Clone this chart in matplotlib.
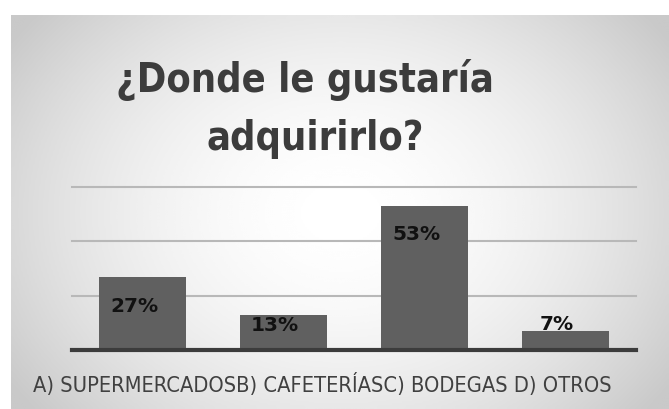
import numpy as np
import matplotlib
matplotlib.use("Agg")
import matplotlib.pyplot as plt

# ---- data ----
categories = ["A) SUPERMERCADOS", "B) CAFETERÍAS", "C) BODEGAS", "D) OTROS"]
values = [27, 13, 53, 7]
value_labels = ["27%", "13%", "53%", "7%"]
title_lines = ["¿Donde le gustaría", "adquirirlo?"]

# ---- style ----
label_dy_px = [-29, -10, -27, 7]   # vertical offset of each value label from the bar top
label_dx = -0.06
W, H = 669, 410
fig = plt.figure(figsize=(W / 100, H / 100), dpi=100)
fig.patch.set_facecolor("white")

# background panel with radial gradient
px0, py0 = 11, 16
bg = fig.add_axes([px0 / W, 0, 1 - px0 / W, (H - py0) / H])
bg.set_axis_off()
ny, nx = 200, 330
yy, xx = np.mgrid[0:ny, 0:nx]
cx, cy = nx * 0.50, ny * 0.50
r = np.sqrt(((xx - cx) / (nx * 0.55)) ** 2 + ((yy - cy) / (ny * 0.72)) ** 2)
g = 1.0 - 0.18 * np.clip(r, 0, 1.1) ** 1.8
bg.imshow(g, cmap="gray", vmin=0, vmax=1, aspect="auto", interpolation="bicubic",
          extent=[0, 1, 0, 1])
bg.set_xlim(0, 1); bg.set_ylim(0, 1)

# main axes
left, right = 72, 636
base_y, top_y = 351, 188
ax = fig.add_axes([left / W, (H - base_y) / H, (right - left) / W, (base_y - top_y) / H])
ax.set_facecolor("none")
x = np.arange(len(categories))
ax.set_xlim(-0.5, len(categories) - 0.5)
ax.set_ylim(0, 60)
for gy in [20, 40, 60]:
    ax.axhline(gy, color="#b8b8b8", lw=1.5, zorder=1, clip_on=False)
bars = ax.bar(x, values, width=0.61, color="#606060", zorder=2)
ax.axhline(0, color="#3c3c3c", lw=3, zorder=3, clip_on=False)
for s in ax.spines.values():
    s.set_visible(False)
ax.set_xticks([]); ax.set_yticks([])

for xi, v, lab, dy in zip(x, values, value_labels, label_dy_px):
    ax.annotate(lab, (xi + label_dx, v), xytext=(0, dy * 0.72), textcoords="offset points",
                ha="center", va="center", fontsize=14.5, fontweight="bold",
                color="#111111", family="DejaVu Sans", zorder=4)

# title
fig.text(305 / W, 1 - 92 / H, title_lines[0], ha="center", va="baseline",
         fontsize=28.5, fontweight="bold", color="#3c3c3c",
         family=["DejaVu Sans"], fontstretch="condensed")
fig.text(315 / W, 1 - 150 / H, title_lines[1], ha="center", va="baseline",
         fontsize=28.5, fontweight="bold", color="#3c3c3c",
         family=["DejaVu Sans"], fontstretch="condensed")

# run-together category labels
axis_text = "".join(categories[:3]).replace("BODEGAS", "BODEGAS ") + categories[3]
fig.text(33 / W, 1 - 392 / H, axis_text, ha="left", va="baseline",
         fontsize=15.7, color="#404040", family=["DejaVu Sans"], fontstretch="condensed")

fig.savefig("out.png", dpi=100)
